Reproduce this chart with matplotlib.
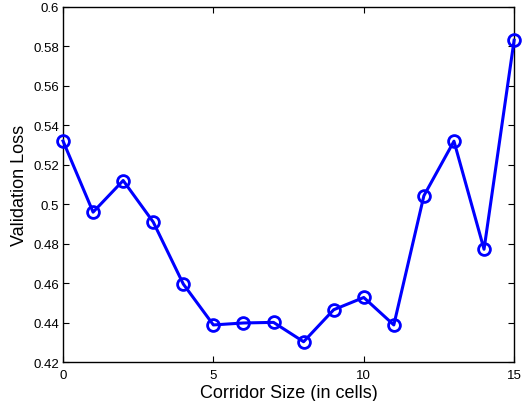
import matplotlib
matplotlib.use('Agg')
import matplotlib.pyplot as plt
import numpy as np

# Data
corridor_size = np.arange(0, 16)
val_loss = [0.532, 0.496, 0.512, 0.491, 0.4596, 0.4389, 0.4399, 0.4402,
            0.4304, 0.4466, 0.4528, 0.4389, 0.5043, 0.5319, 0.4772, 0.583]

plt.rcParams['font.family'] = ['Liberation Sans', 'DejaVu Sans']

fig = plt.figure(figsize=(5.23, 4.02), dpi=100)
ax = fig.add_axes([0.1205, 0.0963, 0.8625, 0.8847])

ax.plot(corridor_size, val_loss, color='#0000ff', linewidth=2.2,
        marker='o', markersize=8.5, markerfacecolor='none',
        markeredgewidth=2.0, clip_on=False, zorder=3)

ax.set_xlim(0, 15)
ax.set_ylim(0.42, 0.6)
ax.set_xticks([0, 5, 10, 15])
ax.set_yticks(np.arange(0.42, 0.601, 0.02))
ax.set_yticklabels(['0.42', '0.44', '0.46', '0.48', '0.5', '0.52',
                    '0.54', '0.56', '0.58', '0.6'])
ax.tick_params(direction='in', top=True, right=True, labelsize=9.5,
               length=4.5, width=0.8, pad=3)
ax.tick_params(axis='x', pad=5)
for s in ax.spines.values():
    s.set_linewidth(1.0)

ax.set_xlabel('Corridor Size (in cells)', fontsize=13, labelpad=2)
ax.set_ylabel('Validation Loss', fontsize=13, labelpad=4)

fig.savefig('out.png', dpi=100)
